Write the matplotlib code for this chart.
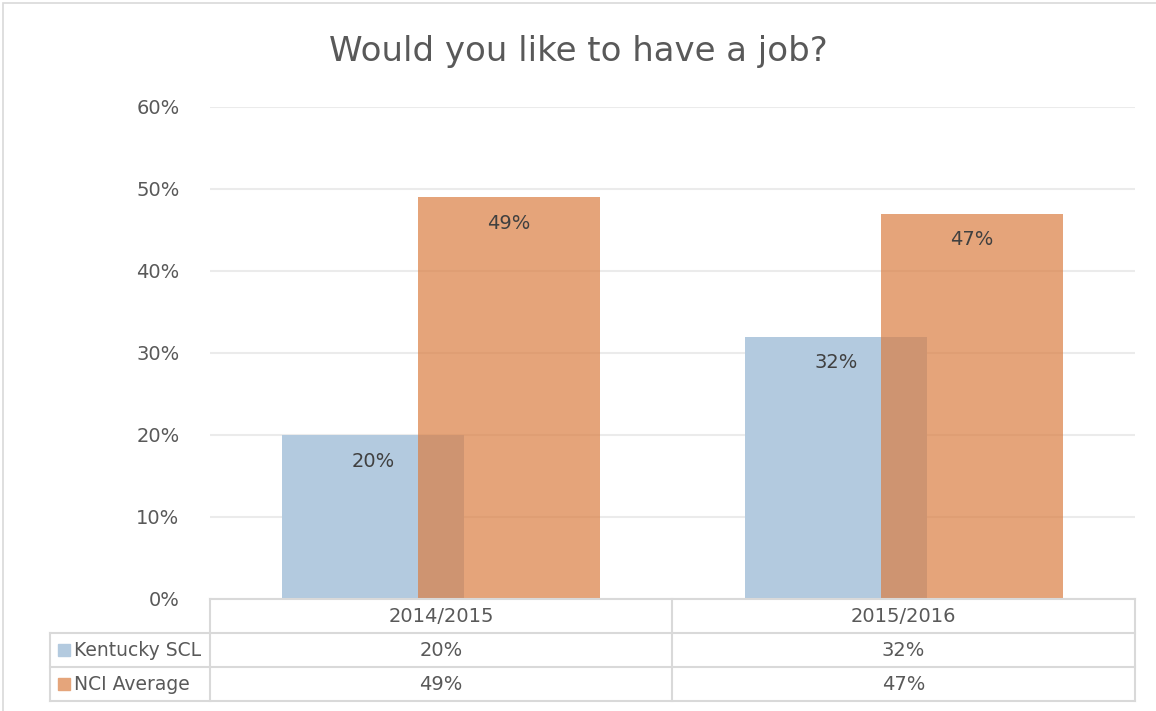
import matplotlib
matplotlib.use("Agg")
import matplotlib.pyplot as plt
from matplotlib.patches import Rectangle
from matplotlib.lines import Line2D
import numpy as np

# Chart data
categories = ["2014/2015", "2015/2016"]
series_names = ["Kentucky SCL", "NCI Average"]
kentucky_scl = [20, 32]
nci_average = [49, 47]
y_ticks = [0, 10, 20, 30, 40, 50, 60]

W, H = 1156, 711
plt.rcParams['font.family'] = ['DejaVu Sans']
TEXT = '#595959'
GRID = '#ebebeb'
BLUE = '#b3cadf'
ORANGE = '#da7e42'

fig = plt.figure(figsize=(W / 100, H / 100), dpi=100)


def fx(px):
    return px / W


def fy(py):
    return 1 - py / H


# outer chart frame (right and bottom edges fall outside the canvas)
fig.patches.append(Rectangle((fx(3), fy(720)), fx(1170) - fx(3), fy(3) - fy(720),
                             transform=fig.transFigure, fill=False,
                             edgecolor='#d9d9d9', lw=1.2))

ax = fig.add_axes([fx(210), fy(599), fx(1135) - fx(210), fy(107) - fy(599)])
x = np.arange(len(categories))
width = 0.394
offset = 0.147

ax.bar(x - offset, kentucky_scl, width, color=BLUE, zorder=2)
ax.bar(x + offset, nci_average, width, color=ORANGE, alpha=0.7, zorder=3)

for xi, v in zip(x - offset, kentucky_scl):
    ax.annotate(f"{v}%", (xi, v), xytext=(0, -19), textcoords='offset points',
                ha='center', va='center', fontsize=14, color='#404040', zorder=4)
for xi, v in zip(x + offset, nci_average):
    ax.annotate(f"{v}%", (xi, v), xytext=(0, -19), textcoords='offset points',
                ha='center', va='center', fontsize=14, color='#404040', zorder=4)

ax.set_xlim(-0.5, len(categories) - 0.5)
ax.set_ylim(0, 60)
ax.set_yticks(y_ticks)
ax.set_yticklabels([f"{t}%" for t in y_ticks])
ax.set_xticks([])
ax.tick_params(axis='y', length=0, pad=22, labelsize=14, labelcolor=TEXT)
ax.grid(axis='y', color=GRID, lw=1.5, zorder=0)
ax.set_axisbelow(True)
for s in ax.spines.values():
    s.set_visible(False)

fig.text(0.5, fy(51), "Would you like to have a job?", ha='center', va='center',
         fontsize=24.5, color=TEXT)

# data table under the plot
LINE = '#d9d9d9'


def hline(y, x0, x1):
    fig.lines.append(Line2D([fx(x0), fx(x1)], [fy(y), fy(y)], transform=fig.transFigure,
                            color=LINE, lw=1.5))


def vline(xp, y0, y1):
    fig.lines.append(Line2D([fx(xp), fx(xp)], [fy(y0), fy(y1)], transform=fig.transFigure,
                            color=LINE, lw=1.5))


hline(599, 210, 1135)
for yy in (633, 667, 701):
    hline(yy, 50, 1135)
vline(50, 633, 701)
for xx in (210, 672, 1135):
    vline(xx, 599, 701)

col_centers = [441, 903.5]
for cx, cat in zip(col_centers, categories):
    fig.text(fx(cx), fy(616), cat, ha='center', va='center', fontsize=14, color=TEXT)

rows = [kentucky_scl, nci_average]
row_y = [650, 684]
row_colors = [BLUE, '#e5a57b']
for name, vals, ry, col in zip(series_names, rows, row_y, row_colors):
    fig.patches.append(Rectangle((fx(58), fy(ry + 6)), fx(12), fy(0) - fy(12),
                                 transform=fig.transFigure, color=col))
    fig.text(fx(74), fy(ry), name, ha='left', va='center', fontsize=13.5, color=TEXT)
    for cx, v in zip(col_centers, vals):
        fig.text(fx(cx), fy(ry), f"{v}%", ha='center', va='center', fontsize=14, color=TEXT)

fig.savefig("out.png", dpi=100)
